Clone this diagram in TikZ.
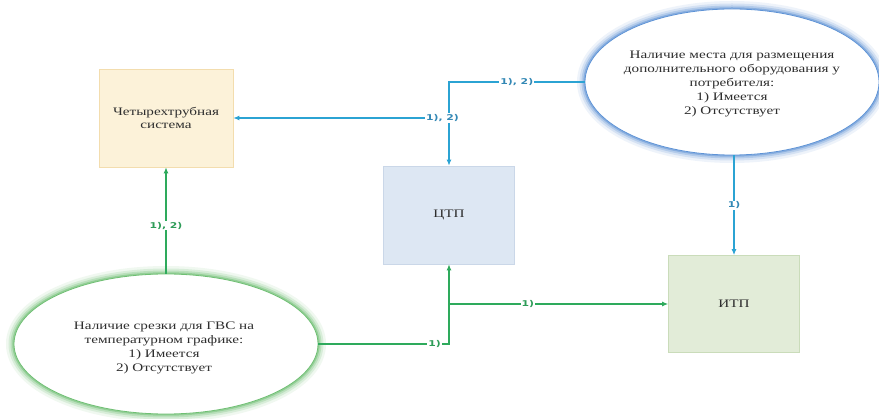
\documentclass[tikz,border=0pt]{standalone}
\usepackage{fontspec}
\setmainfont{Liberation Serif}[FakeStretch=1.32]
\setsansfont{DejaVu Sans}[FakeStretch=1.35]
\usetikzlibrary{arrows.meta,shapes.geometric}

\definecolor{beigefill}{HTML}{FCF2D9}
\definecolor{beigeline}{HTML}{F3DDAE}
\definecolor{bluefill}{HTML}{DDE7F3}
\definecolor{blueborder}{HTML}{CAD7E8}
\definecolor{greenfill}{HTML}{E2ECD8}
\definecolor{greenborder}{HTML}{CADCBA}
\definecolor{cyanline}{HTML}{2BA3D3}
\definecolor{greenline}{HTML}{2EAA5C}
\definecolor{cyanlabel}{HTML}{3388B5}
\definecolor{greenlabel}{HTML}{2E9C58}
\definecolor{glowblue}{HTML}{5E93D6}
\definecolor{glowgreen}{HTML}{6FBF73}
\definecolor{textgray}{HTML}{2E2E2E}

\tikzset{
  block/.style={rectangle, minimum width=131pt, minimum height=98pt,
    text=textgray, align=center, line width=0.6pt,
    font=\fontsize{11.5}{13.5}\selectfont},
  glow/.style={preaction={draw=#1, line width=16pt, opacity=0.1},
    preaction={draw=#1, line width=11pt, opacity=0.18},
    preaction={draw=#1, line width=7pt, opacity=0.28},
    preaction={draw=#1, line width=3.5pt, opacity=0.5}},
  oval/.style={ellipse, fill=white, draw=#1, line width=0.8pt, glow=#1,
    inner sep=0pt},
  ovaltext/.style={text=textgray, align=center,
    font=\fontsize{11.5}{14}\selectfont},
  bluearrow/.style={draw=cyanline, line width=1.2pt,
    -{Latex[length=6pt,width=5pt]}},
  greenarrow/.style={draw=greenline, line width=1.2pt,
    -{Latex[length=6pt,width=5pt]}},
  lab/.style={fill=white, inner sep=1pt, text=#1,
    font=\sffamily\bfseries\fontsize{8}{9}\selectfont}
}

\begin{document}
\begin{tikzpicture}[x=1pt,y=-1pt]
  \useasboundingbox[fill=white] (0,0) rectangle (879,419);

  %% blocks
  \node[block, fill=beigefill, draw=beigeline, minimum width=134pt] (four) at (166,118) {Четырехтрубная\\система};
  \node[block, fill=bluefill, draw=blueborder] (ctp) at (449,215) {ЦТП};
  \node[block, fill=greenfill, draw=greenborder, minimum height=97pt] (itp) at (734,304) {ИТП};

  %% conditions
  \node[oval=glowblue, minimum width=294pt, minimum height=146pt] (place) at (732,82) {};
  \node[ovaltext] (placetext) at (732,84) {Наличие места для размещения\\дополнительного оборудования у\\потребителя:\\1) Имеется\\2) Отсутствует};
  \node[oval=glowgreen, minimum width=304pt, minimum height=140pt] (cut) at (166,344) {};
  \node[ovaltext] (cuttext) at (164,348) {Наличие срезки для ГВС на\\температурном графике:\\1) Имеется\\2) Отсутствует};

  %% blue links
  \draw[bluearrow] (place.west) -- node[lab=cyanlabel] {1), 2)} (place.west -| ctp.north) -- (ctp.north);
  \draw[bluearrow] (ctp.north |- four.east) -- node[lab=cyanlabel, pos=0.03] {1), 2)} (four.east);
  \draw[bluearrow] (place.south -| itp.north) -- node[lab=cyanlabel] {1)} (itp.north);

  %% green links
  \draw[greenarrow] (cut.north -| four.south) -- node[lab=greenlabel, pos=0.45] {1), 2)} (four.south);
  \draw[greenarrow] (cut.east) -- node[lab=greenlabel, pos=0.89] {1)} (cut.east -| ctp.south) -- (ctp.south);
  \draw[greenarrow] (ctp.south |- itp.west) -- node[lab=greenlabel, pos=0.36] {1)} (itp.west);

\end{tikzpicture}
\end{document}
